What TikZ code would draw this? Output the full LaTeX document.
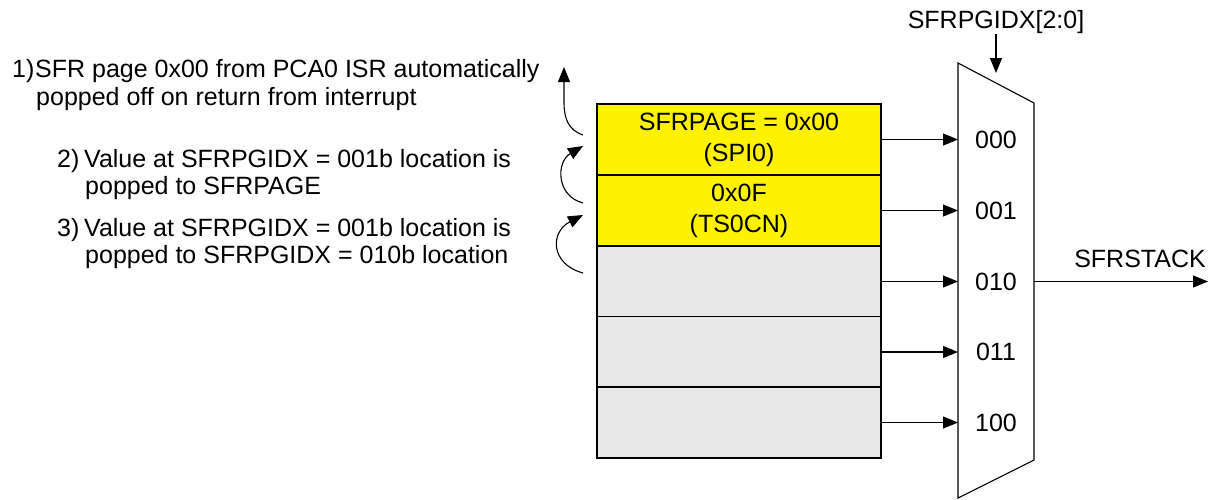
\documentclass[tikz,border=0pt]{standalone}
\usepackage{fontspec}
\setmainfont{Liberation Sans}
\usetikzlibrary{arrows.meta}
\begin{document}
\begin{tikzpicture}[x=1pt,y=-1pt,
  every node/.style={font=\fontsize{25}{30}\selectfont, inner sep=0pt},
  lbl/.style={anchor=base west},
  cell/.style={draw, line width=1.1pt, minimum width=284pt, minimum height=71pt, align=center},
  used/.style={cell, fill=yellow},
  empty/.style={cell, fill=black!9},
  arr/.style={line width=1.1pt, -{Triangle[length=15pt,width=12pt]}},
  ln/.style={line width=1.1pt}]
\useasboundingbox (0,0) rectangle (1213,499);
% stack cells
\node[used, font=\fontsize{25}{31}\selectfont] (r1) at (739,139.5) {SFRPAGE = 0x00\\(SPI0)};
\node[used, font=\fontsize{25}{31}\selectfont] (r2) at (739,210.5) {0x0F\\(TS0CN)};
\node[empty] (r3) at (739,281.5) {};
\node[empty] (r4) at (739,352) {};
\node[empty] (r5) at (739,422.5) {};
% mux
\coordinate (mtl) at (958,63);
\coordinate (mtr) at (1034,103);
\coordinate (mbr) at (1034,460);
\coordinate (mbl) at (958,498);
\draw[ln, line join=miter] (mtl) -- (mtr) -- (mbr) -- (mbl) -- cycle;
\foreach \i/\y/\t in {1/139.5/000, 2/210.5/001, 3/281.5/010, 4/352/011, 5/422.5/100}{
  \coordinate (in\i) at (958,\y);
  \node (s\i) at (996,\y) {\t};
  \draw[arr] (r\i.east |- in\i) -- (in\i);
}
% select input
\node (sel) at (996,22) {SFRPGIDX[2:0]};
\coordinate (selend) at (996,73);
\draw[arr] (sel.south) -- (selend);
% output
\coordinate (mout) at (1034,281.5);
\coordinate (oend) at (1208,281.5);
\draw[arr] (mout) -- (oend);
\node (out) at (1140,259) {SFRSTACK};
% left texts
\node[lbl] (t1n) at (12,77) {1)};
\node[lbl] (t1a) at (35,77) {SFR page 0x00 from PCA0 ISR automatically};
\node[lbl] (t1b) at (36,105) {popped off on return from interrupt};
\node[lbl] (t2n) at (57,167) {2)};
\node[lbl] (t2a) at (84,167) {Value at SFRPGIDX = 001b location is};
\node[lbl] (t2b) at (85,194) {popped to SFRPAGE};
\node[lbl] (t3n) at (57,236) {3)};
\node[lbl] (t3a) at (84,236) {Value at SFRPGIDX = 001b location is};
\node[lbl] (t3b) at (85,263) {popped to SFRPGIDX = 010b location};
% curved arrows
\coordinate (a1s) at (583,135);
\coordinate (a1m) at (564,102);
\coordinate (a1e) at (564,67);
\draw[arr] (a1s) .. controls (568,130) and (564,118) .. (a1m) -- (a1e);
\coordinate (a2s) at (583,203);
\coordinate (a2e) at (583,146);
\draw[arr] (a2s) .. controls (556,196) and (556,162) .. (a2e);
\coordinate (a3s) at (583,273);
\coordinate (a3e) at (583,215);
\draw[arr] (a3s) .. controls (550,264) and (550,232) .. (a3e);
\end{tikzpicture}
\end{document}
